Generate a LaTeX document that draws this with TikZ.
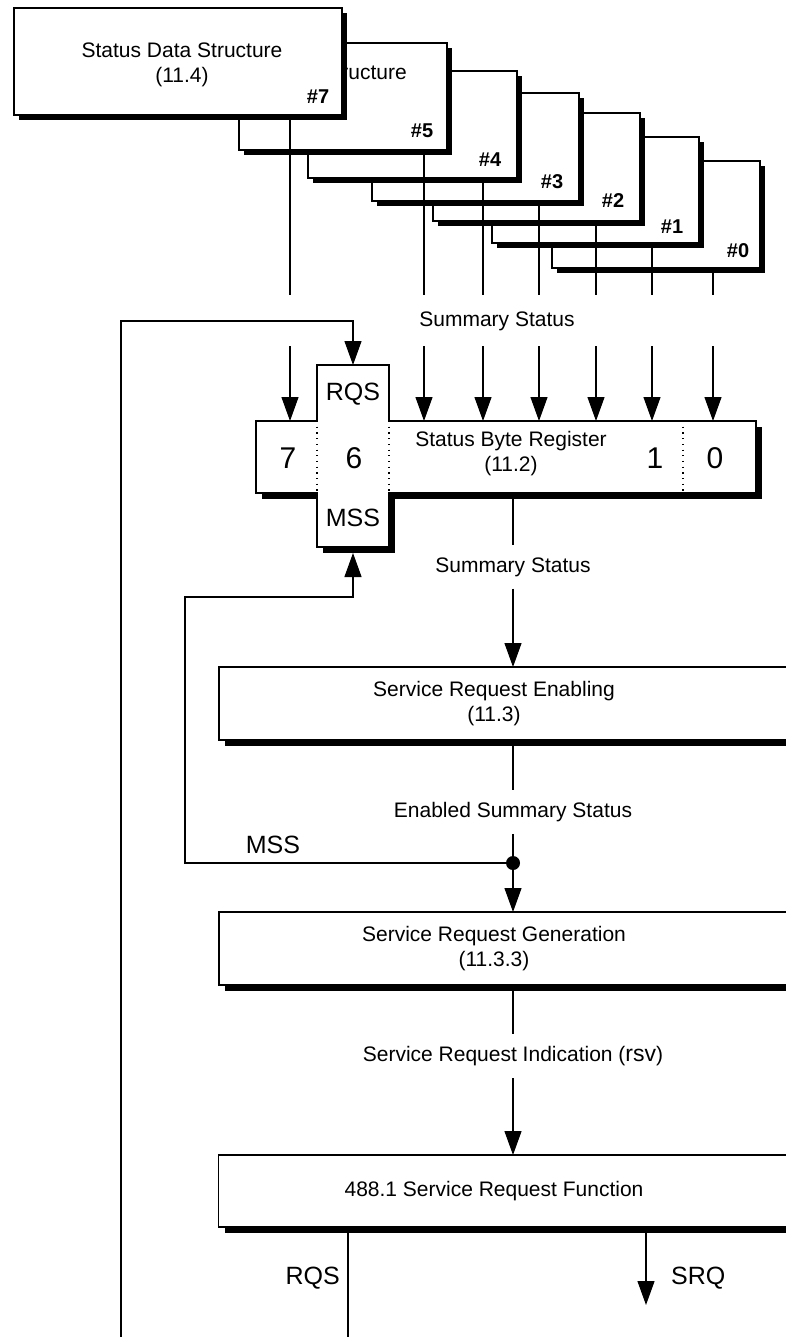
\documentclass[tikz,border=0pt]{standalone}
\usepackage{fontspec}
\setmainfont{Liberation Sans}
\usetikzlibrary{arrows.meta,shadows}
\begin{document}
\begin{tikzpicture}[x=1pt,y=-1pt,
  txt/.style={font=\fontsize{21}{25}\selectfont, inner sep=0pt, align=center},
  flowlbl/.style={txt, inner ysep=12pt},
  digit/.style={font=\fontsize{30}{30}\selectfont, inner sep=0pt},
  sig/.style={font=\fontsize{25}{25}\selectfont, inner sep=0pt},
  tag/.style={font=\bfseries\fontsize{20}{20}\selectfont, inner sep=0pt},
  wire/.style={line width=1.2pt},
  arr/.style={wire, -{Triangle[length=24pt,width=17pt]}},
  junction/.style={circle, fill=black, inner sep=0pt, outer sep=0pt, minimum size=14pt},
  stackbox/.style={draw, line width=1.4pt, fill=white, inner sep=0pt, outer sep=0pt,
     minimum height=107pt,
     drop shadow={shadow xshift=5pt, shadow yshift=-5pt, fill=black, opacity=1}},
  panel/.style={draw, line width=1.4pt, fill=white, inner sep=0pt, outer sep=0pt,
     minimum width=611pt, minimum height=73pt,
     drop shadow={shadow xshift=6pt, shadow yshift=-6pt, fill=black, opacity=1}},
  slot/.style={inner sep=0pt, outer sep=0pt},
  sep/.style={line width=1.2pt, dash pattern=on 1.2pt off 4.5pt},
]
\useasboundingbox (0,0) rectangle (786,1337);
\clip (0,0) rectangle (786,1337);

% ---- stack of status data structures, back to front ----
\node[stackbox, minimum width=208pt] (s0) at (656,214.5) {};
\node[tag] at ([xshift=-22pt,yshift=17pt]s0.south east) {\#0};
\node[stackbox, minimum width=207pt, minimum height=106pt] (s1) at (595.5,190) {};
\node[tag] at ([xshift=-27pt,yshift=16pt]s1.south east) {\#1};
\node[stackbox, minimum width=207pt, minimum height=108pt] (s2) at (536.5,167) {};
\node[tag] at ([xshift=-27pt,yshift=20pt]s2.south east) {\#2};
\node[stackbox, minimum width=207pt, minimum height=108pt] (s3) at (475.5,147) {};
\node[tag] at ([xshift=-27pt,yshift=19pt]s3.south east) {\#3};
\node[stackbox, minimum width=209pt] (s4) at (412.5,124.5) {};
\node[tag] at ([xshift=-27pt,yshift=18pt]s4.south east) {\#4};
\node[stackbox, minimum width=208pt] (s5) at (343,96.5) {};
\node[tag] at ([xshift=-25pt,yshift=19pt]s5.south east) {\#5};
\node[txt, anchor=east] (t5) at (407,72) {Status Data Structure};
\node[stackbox, minimum width=328pt] (s7) at (178,61.5) {};
\node[tag] at ([xshift=-24pt,yshift=18pt]s7.south east) {\#7};
\node[txt] (t7) at (182,64.5) {Status Data Structure\\(11.4)};

% summary status outputs of each structure
\foreach \b/\x in {7/290,5/424,4/483,3/539,2/596,1/652,0/713} {
  \coordinate (e\b) at (\x,295);
  \coordinate (a\b) at (\x,346);
  \draw[wire] (e\b |- s\b.south) -- (e\b);
}
\node[txt] (ss1) at (497,321) {Summary Status};

% ---- status byte register with the RQS/MSS bit ----
\node[slot, minimum width=500pt, minimum height=72pt] (reg) at (506,457) {};
\node[slot, minimum width=72pt, minimum height=182pt] (cross) at (353,456) {};
\coordinate (cxn) at (cross.west |- reg.north);
\fill ([shift={(6,6)}]reg.north west) rectangle ([shift={(6,6)}]reg.south east);
\fill ([shift={(6,6)}]cxn) rectangle ([shift={(6,6)}]cross.south east);
\fill[white] (reg.north west) rectangle (reg.south east);
\fill[white] (cross.north west) rectangle (cross.south east);
\draw[line width=1.4pt] (reg.north west) -- (cross.west |- reg.north) -- (cross.north west)
  -- (cross.north east) -- (cross.east |- reg.north) -- (reg.north east) -- (reg.south east)
  -- (cross.east |- reg.south) -- (cross.south east) -- (cross.south west)
  -- (cross.west |- reg.south) -- (reg.south west) -- cycle;
\coordinate (sep10) at (683,457);
\draw[sep] (cross.west |- reg.north) -- (cross.west |- reg.south);
\draw[sep] (cross.east |- reg.north) -- (cross.east |- reg.south);
\draw[sep] (sep10 |- reg.north) -- (sep10 |- reg.south);
\node[digit] (d7) at (288,458) {7};
\node[digit] (d6) at (354,458) {6};
\node[digit] (d1) at (655,458) {1};
\node[digit] (d0) at (715,458) {0};
\node[sig] (rqs) at (353,394) {RQS};
\node[sig] (mss) at (353,518) {MSS};
\node[txt] (tsbr) at (511,454) {Status Byte Register\\(11.2)};

\foreach \b in {7,5,4,3,2,1,0} \draw[arr] (a\b) -- (a\b |- reg.north);

% RQS feedback from the service request function
\coordinate (loopFoot) at (121,1337);
\coordinate (loopTop) at (121,321);
\draw[arr] (loopFoot) -- (loopTop) -- (loopTop -| cross.north) -- (cross.north);

% ---- service request chain ----
\node[flowlbl] (ss2) at (513,567) {Summary Status};
\draw[wire] (ss2.north |- reg.south) -- (ss2.north);
\node[panel] (sre) at (524.5,703.5) {};
\node[txt] (tsre) at (494,703.5) {Service Request Enabling\\(11.3)};
\draw[arr] (ss2.south) -- (ss2.south |- sre.north);

\node[flowlbl] (ess) at (513,812) {Enabled Summary Status};
\draw[wire] (ess.north |- sre.south) -- (ess.north);
\node[panel] (srg) at (524.5,948.5) {};
\node[txt] (tsrg) at (494,948.5) {Service Request Generation\\(11.3.3)};
\coordinate (jc) at (513,863);
\draw[wire] (ess.south) -- (jc);
\draw[arr] (jc) -- (jc |- srg.north);

% MSS feedback
\coordinate (mssCorner) at (185,597);
\draw[arr] (jc) -| (mssCorner) -| ([yshift=-6pt]cross.south);
\node[junction] (jn) at (jc) {};
\node[sig] (mssl) at (273,845) {MSS};

\node[flowlbl] (sri) at (513,1056) {Service Request Indication ({\fontsize{23}{23}\selectfont rsv})};
\draw[wire] (sri.north |- srg.south) -- (sri.north);
\node[panel, minimum height=72pt] (srf) at (524,1191) {};
\node[txt] (tsrf) at (494,1191) {488.1 Service Request Function};
\draw[arr] (sri.south) -- (sri.south |- srf.north);

\coordinate (rqsFoot) at (348,1337);
\draw[wire] (rqsFoot |- srf.south) -- (rqsFoot);
\coordinate (srqTip) at (646,1305);
\draw[arr] (srqTip |- srf.south) -- (srqTip);
\node[sig, anchor=east] (rqsl) at (340,1278) {RQS};
\node[sig, anchor=west] (srql) at (671,1278) {SRQ};
\end{tikzpicture}
\end{document}
